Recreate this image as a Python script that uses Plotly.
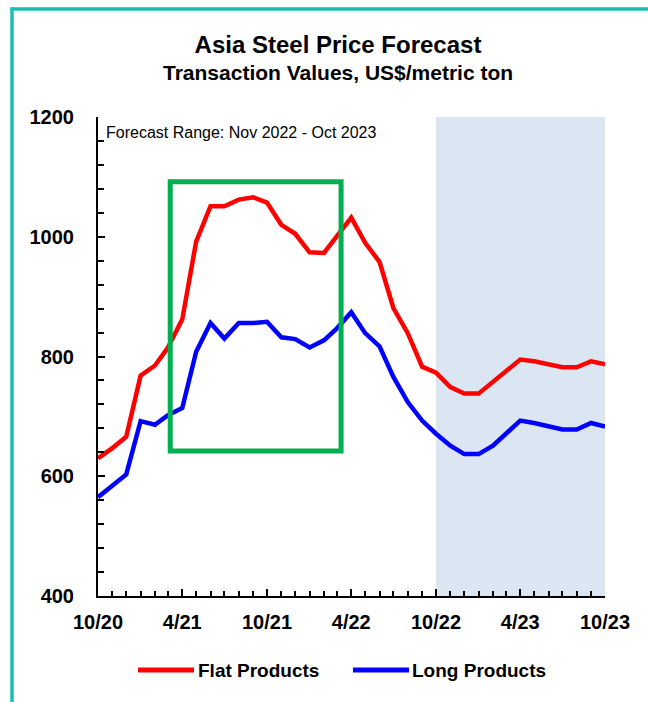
import pandas as pd
import plotly.graph_objects as go

# ---- data ----
months = pd.date_range("2020-10-01", "2023-10-01", freq="MS")
flat_products = [630, 647, 666, 768, 785, 815, 862, 992, 1051, 1051, 1062, 1066, 1057,
                 1020, 1005, 974, 973, 1001, 1032, 990, 958, 881, 839, 783, 773, 749,
                 738, 738, 758, 777, 795, 792, 787, 782, 782, 792, 787]
long_products = [565, 584, 603, 692, 686, 702, 714, 808, 856, 830, 856, 856, 858,
                 832, 829, 815, 827, 847, 874, 839, 817, 766, 724, 693, 671, 651,
                 637, 637, 651, 671, 693, 689, 683, 678, 678, 689, 683]
series_names = ["Flat Products", "Long Products"]
forecast_start = "2022-10-01"
forecast_end = "2023-10-01"
highlight_x = ["2021-03-06", "2022-03-10"]
highlight_y = [642, 1092]

FONT = "Liberation Sans, Arial, sans-serif"
RED = "#FF0000"
BLUE = "#0000FF"

fig = go.Figure()
fig.add_trace(go.Scatter(x=months, y=flat_products, mode="lines", name=series_names[0],
                         line=dict(color=RED, width=4.5), showlegend=False))
fig.add_trace(go.Scatter(x=months, y=long_products, mode="lines", name=series_names[1],
                         line=dict(color=BLUE, width=4.5), showlegend=False))

W, H = 648, 702
L, R, T, B = 98, 43, 117, 106
pw, ph = W - L - R, H - T - B


def px(xp):
    return (xp - L) / pw


def py(yp):
    return (H - B - yp) / ph


shapes = [
    # forecast shading
    dict(type="rect", xref="x", yref="paper", x0=forecast_start, x1=forecast_end, y0=0, y1=1,
         fillcolor="#DCE6F2", line=dict(width=0), layer="below"),
    # green highlight box
    dict(type="rect", xref="x", yref="y", x0=highlight_x[0], x1=highlight_x[1],
         y0=highlight_y[0], y1=highlight_y[1], line=dict(color="#00B050", width=5),
         fillcolor="rgba(0,0,0,0)", layer="above"),
    # teal frame
    dict(type="line", xref="paper", yref="paper", x0=px(10.5), x1=px(650), y0=py(9), y1=py(9),
         line=dict(color="#19BFB1", width=3.5)),
    dict(type="line", xref="paper", yref="paper", x0=px(12), x1=px(12), y0=py(7.5), y1=py(705),
         line=dict(color="#19BFB1", width=3.5)),
    # legend samples
    dict(type="line", xref="paper", yref="paper", x0=px(138), x1=px(194), y0=py(670), y1=py(670),
         line=dict(color=RED, width=5)),
    dict(type="line", xref="paper", yref="paper", x0=px(353), x1=px(409), y0=py(670), y1=py(670),
         line=dict(color=BLUE, width=5)),
]

annotations = [
    dict(text="<b>Transaction Values, US$/metric ton</b>", xref="paper", yref="paper",
         x=px(338), y=py(72), xanchor="center", yanchor="middle", showarrow=False,
         font=dict(family=FONT, size=21, color="#000000")),
    dict(text="Forecast Range: Nov 2022 - Oct 2023", xref="paper", yref="paper",
         x=px(104), y=py(133), xanchor="left", yanchor="middle", showarrow=False,
         font=dict(family=FONT, size=16, color="#000000")),
    dict(text="<b>" + series_names[0] + "</b>", xref="paper", yref="paper",
         x=px(196), y=py(670), xanchor="left", yanchor="middle", showarrow=False,
         font=dict(family=FONT, size=19, color="#000000")),
    dict(text="<b>" + series_names[1] + "</b>", xref="paper", yref="paper",
         x=px(410), y=py(670), xanchor="left", yanchor="middle", showarrow=False,
         font=dict(family=FONT, size=19, color="#000000")),
]

fig.update_layout(
    width=W, height=H,
    margin=dict(l=L, r=R, t=T, b=B),
    paper_bgcolor="white", plot_bgcolor="white",
    title=dict(text="<b>Asia Steel Price Forecast</b>", x=338 / W, xanchor="center",
               y=1 - 45 / H, yanchor="middle", yref="container",
               font=dict(family=FONT, size=24, color="#000000")),
    shapes=shapes, annotations=annotations, showlegend=False,
    font=dict(family=FONT, color="#000000"),
)

fig.update_xaxes(
    type="date", range=["2020-10-01", "2023-10-01"],
    showline=True, linecolor="black", linewidth=2, mirror=False,
    showgrid=False, zeroline=False,
    ticks="inside", ticklen=7, tickwidth=2, tickcolor="black",
    tick0="2020-10-01", dtick="M6", tickformat="%-m/%y",
    ticklabelstandoff=7,
    tickfont=dict(family=FONT, size=20, weight="bold", color="#000000"),
    minor=dict(ticks="inside", dtick="M1", ticklen=5, tickwidth=1.5, tickcolor="black", showgrid=False),
)
fig.update_yaxes(
    range=[400, 1200], showline=True, linecolor="black", linewidth=2,
    showgrid=False, zeroline=False,
    ticks="inside", ticklen=7, tickwidth=2, tickcolor="black",
    tick0=400, dtick=200, ticklabelstandoff=18,
    tickfont=dict(family=FONT, size=20, weight="bold", color="#000000"),
    minor=dict(ticks="inside", dtick=40, ticklen=6, tickwidth=1.5, tickcolor="black", showgrid=False),
)

fig.write_html("out.html")
